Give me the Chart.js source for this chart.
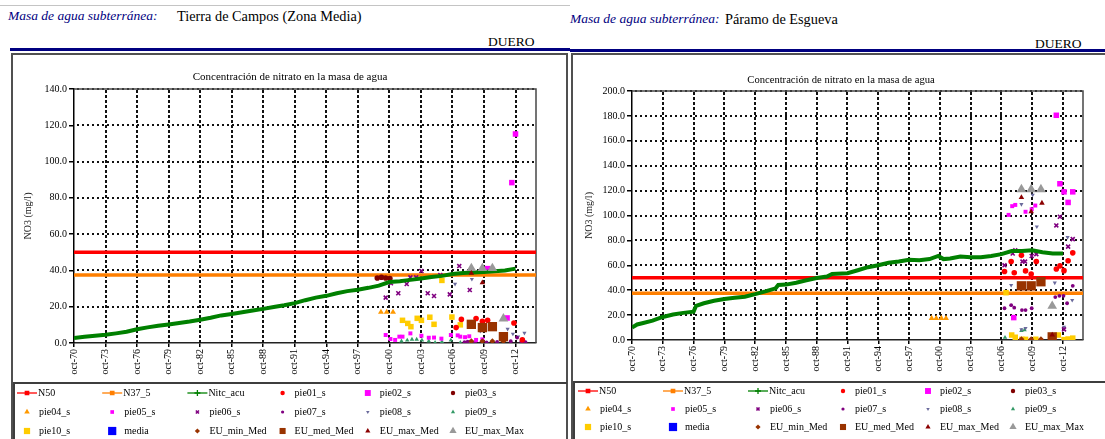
<!DOCTYPE html>
<html>
<head>
<meta charset="utf-8">
<title>Concentración de nitrato en la masa de agua</title>
<script src="https://cdn.jsdelivr.net/npm/chart.js@4/dist/chart.umd.min.js"></script>
<style>
  html, body { margin: 0; padding: 0; }
  body { width: 1105px; height: 439px; overflow: hidden; background: #fff; position: relative;
         font-family: "Liberation Serif", "Times New Roman", serif; }
  .rule { position: absolute; height: 1px; background: #c4c4c4; }
  .navy { position: absolute; height: 3px; background: #000080; }
  .hdr { position: absolute; font-size: 13.5px; line-height: 16px; white-space: nowrap; color: #000; }
  .hdr.lbl { font-style: italic; color: #000080; }
  .hdr.name { font-size: 14.3px; }
  .box { position: absolute; border: 2px solid #505050; box-sizing: border-box; }
  canvas { position: absolute; }
</style>
</head>
<body>

<div class="rule" style="left:0;top:5px;width:570px"></div>

<div class="hdr lbl" style="left:8px;top:8px">Masa de agua subterránea:</div>
<div class="hdr name" style="left:177px;top:8px">Tierra de Campos (Zona Media)</div>
<div class="hdr" style="left:488px;top:34px">DUERO</div>
<div class="navy" style="left:10px;top:48px;width:560px"></div>

<div class="hdr lbl" style="left:570px;top:11px">Masa de agua subterránea:</div>
<div class="hdr name" style="left:725px;top:11px">Páramo de Esgueva</div>
<div class="hdr" style="left:1035px;top:36px">DUERO</div>
<div class="navy" style="left:570px;top:49px;width:535px"></div>

<div class="box" style="left:11px;top:53px;width:557px;height:400px"></div>
<div class="box" style="left:571px;top:53px;width:545px;height:400px"></div>

<canvas id="chartTdc" width="555" height="384" style="left:12px;top:55px"></canvas>
<canvas id="chartPde" width="540" height="384" style="left:573px;top:55px"></canvas>

<script>
// ---- Axis ticks and ranges ----
const xMin = 1970.75;
const xMax = 2014.7;
const xTickValues = [1970.75, 1973.75, 1976.75, 1979.75, 1982.75, 1985.75, 1988.75, 1991.75,
                     1994.75, 1997.75, 2000.75, 2003.75, 2006.75, 2009.75, 2012.75];
const xTickLabels = ['oct-70', 'oct-73', 'oct-76', 'oct-79', 'oct-82', 'oct-85', 'oct-88', 'oct-91',
                     'oct-94', 'oct-97', 'oct-00', 'oct-03', 'oct-06', 'oct-09', 'oct-12'];

// Reference nitrate levels (mg/l)
const limitN50 = 50;
const limitN37_5 = 37.5;

// ---- Tierra de Campos (Zona Media): [year, NO3 mg/l] ----
const tdcNitcAcu = [
  [1970.75, 2.8], [1971.75, 3.5], [1972.75, 4.0], [1973.75, 4.5], [1974.75, 5.3], [1975.75, 6.2],
  [1976.75, 7.6], [1977.75, 8.6], [1978.75, 9.5], [1979.75, 10.2], [1980.75, 11.0], [1981.75, 11.8],
  [1982.75, 12.8], [1983.75, 13.9], [1984.75, 15.2], [1985.75, 16.0], [1986.75, 16.9], [1987.75, 17.9],
  [1988.75, 18.8], [1989.75, 19.8], [1990.75, 20.8], [1991.75, 22.0], [1992.75, 23.6], [1993.75, 25.0],
  [1994.75, 26.0], [1995.75, 27.4], [1996.75, 28.6], [1997.75, 29.4], [1998.75, 30.4], [1999.75, 31.6],
  [2000.75, 33.6], [2001.75, 34.0], [2002.75, 34.8], [2003.75, 35.6], [2004.75, 36.4], [2005.75, 37.0],
  [2006.75, 38.0], [2007.75, 38.6], [2008.75, 38.9], [2009.75, 39.2], [2010.75, 39.6], [2011.75, 40.0],
  [2012.75, 41.0]
];
const tdcPie01 = [[2007.1, 8.5], [2007.6, 13.0], [2009.0, 13.5], [2009.6, 12.0], [2010.1, 12.5], [2012.6, 11.0], [2013.4, 1.8]];
const tdcPie02 = [[2010.1, 41.0], [2011.95, 13.8], [2012.4, 88.4], [2012.75, 115.2]];
const tdcPie03 = [[1999.6, 35.8], [2000.0, 36.2], [2000.4, 35.8], [2000.8, 35.5]];
const tdcPie04 = [[1999.95, 17.0], [2000.5, 17.0], [2001.1, 17.0]];
const tdcPie05 = [[2000.4, 4.4], [2000.85, 2.2], [2001.3, 1.7], [2001.7, 3.5], [2002.0, 3.5], [2002.75, 5.3],
                  [2003.8, 4.0], [2004.5, 2.9], [2005.0, 3.0], [2005.7, 2.4], [2006.6, 4.4], [2007.25, 4.2],
                  [2007.5, 3.5], [2007.95, 3.2], [2008.35, 3.7], [2009.0, 1.7], [2009.6, 2.0]];
const tdcPie06 = [[2000.4, 25.0], [2000.9, 32.9], [2001.6, 27.4], [2002.4, 32.5], [2002.75, 36.2], [2003.3, 36.2],
                  [2003.8, 39.7], [2004.4, 27.4], [2005.0, 25.9], [2005.6, 37.5], [2006.5, 26.8], [2007.4, 42.4],
                  [2008.4, 29.2]];
const tdcPie07 = [[2007.9, 0.5], [2008.2, 0.8], [2008.9, 0.5], [2010.0, 0.3], [2011.0, 0.6], [2012.3, 1.0],
                  [2012.9, 3.0], [2013.3, 0.8], [2013.5, 1.2], [2013.7, 0.5]];
const tdcPie08 = [[2007.0, 32.5], [2008.6, 35.2], [2009.4, 6.5], [2012.0, 7.7], [2012.5, 5.0], [2013.0, 3.5], [2013.6, 5.5]];
const tdcPie09 = [[2001.9, 1.0], [2002.45, 1.5], [2002.9, 2.0], [2003.35, 2.0], [2003.85, 1.5], [2004.5, 1.0],
                  [2005.1, 0.2], [2005.75, 0.7], [2006.6, 1.5], [2007.5, 0.2], [2008.4, 0.5]];
const tdcPie10 = [[2002.0, 12.5], [2002.5, 10.8], [2002.8, 9.0], [2003.4, 13.6], [2003.8, 12.5], [2004.6, 14.2],
                  [2005.0, 10.3], [2005.75, 34.5], [2006.7, 14.3], [2007.5, 10.0]];
const tdcMedia = [];
const tdcEuMinMed = [[2008.55, 1.0], [2009.6, 1.0], [2010.55, 1.0], [2011.6, 1.0]];
const tdcEuMedMed = [[2008.55, 10.3], [2009.6, 8.5], [2010.55, 9.0], [2011.6, 3.5]];
const tdcEuMaxMed = [[2008.55, 38.5], [2009.6, 33.2]];
const tdcEuMaxMax = [[2008.55, 41.2], [2009.6, 41.2], [2010.55, 41.2], [2011.6, 13.4]];

// ---- Páramo de Esgueva: [year, NO3 mg/l] ----
const pdeNitcAcu = [
  [1970.75, 10.0], [1971.25, 12.5], [1971.75, 13.5], [1972.75, 15.5], [1973.75, 18.5], [1974.75, 20.5],
  [1975.75, 21.8], [1976.75, 22.8], [1977.0, 27.5], [1977.75, 29.5], [1978.75, 31.5], [1979.75, 33.0],
  [1980.75, 34.0], [1981.75, 34.8], [1982.75, 36.8], [1983.75, 39.0], [1984.75, 41.5], [1985.0, 44.2],
  [1985.75, 44.5], [1986.75, 46.0], [1987.75, 48.0], [1988.75, 49.8], [1989.75, 51.0], [1990.25, 53.0],
  [1991.75, 53.6], [1992.75, 56.0], [1993.75, 58.5], [1994.75, 60.0], [1995.75, 62.0], [1996.75, 63.0],
  [1997.75, 64.5], [1998.75, 64.0], [1999.75, 65.0], [2000.6, 67.5], [2001.1, 65.0], [2001.75, 65.5],
  [2002.75, 67.0], [2003.75, 66.5], [2004.75, 66.5], [2005.75, 67.5], [2006.75, 69.0], [2007.75, 71.5],
  [2008.75, 71.5], [2009.75, 72.0], [2010.75, 70.5], [2011.75, 69.5], [2012.75, 69.5]
];
const pdePie01 = [[2007.05, 55.0], [2007.7, 63.0], [2008.0, 54.0], [2008.7, 68.0], [2009.1, 55.5], [2009.65, 53.0],
                  [2010.15, 63.0], [2012.1, 57.0], [2012.45, 59.5], [2012.85, 55.7], [2013.25, 63.7], [2013.7, 70.0]];
const pdePie02 = [[2007.95, 18.0], [2012.1, 180.5], [2012.45, 125.5], [2012.85, 119.0], [2013.25, 110.5], [2013.7, 119.0]];
const pdePie03 = [];
const pdePie04 = [[1999.95, 17.5], [2000.4, 17.5], [2000.9, 17.5], [2001.35, 17.5]];
const pdePie05 = [[2007.45, 100.5], [2007.8, 107.5], [2008.1, 108.5], [2009.1, 103.0], [2009.7, 105.0], [2010.05, 108.0]];
const pdePie06 = [[2007.05, 60.0], [2007.85, 69.5], [2008.1, 72.0], [2008.8, 63.0], [2009.05, 63.0], [2009.7, 67.5],
                  [2010.15, 69.0], [2012.1, 92.0], [2012.45, 99.0], [2012.85, 8.5], [2013.25, 75.0], [2013.7, 81.0]];
const pdePie07 = [[2007.05, 25.5], [2007.7, 28.0], [2008.0, 26.0], [2008.75, 24.0], [2009.1, 24.0], [2009.7, 25.5],
                  [2012.0, 34.5], [2012.4, 35.5], [2012.8, 35.5], [2013.15, 29.5], [2013.7, 43.5]];
const pdePie08 = [[2007.7, 44.0], [2008.7, 109.0], [2009.8, 116.5], [2010.2, 91.0], [2011.95, 46.0], [2013.2, 82.5],
                  [2013.65, 32.0], [2008.7, 8.5], [2009.1, 9.5], [2012.85, 10.5]];
const pdePie09 = [[2007.1, 2.0], [2008.7, 7.5], [2009.0, 8.0]];
const pdePie10 = [[2007.2, 38.0], [2007.75, 4.0], [2008.1, 2.2], [2008.75, 0.5], [2009.1, 0.5], [2010.1, 0.6],
                  [2012.3, 4.0], [2012.85, 0.3], [2013.25, 0.8], [2013.7, 1.5]];
const pdeMedia = [];
const pdeEuMinMed = [[2008.7, 0.6], [2009.65, 0.6], [2010.6, 0.6], [2011.6, 0.6]];
const pdeEuMedMed = [[2008.7, 43.5], [2009.65, 43.5], [2010.6, 46.8], [2011.7, 2.5]];
const pdeEuMaxMed = [[2008.7, 114.5], [2009.65, 103.0], [2010.7, 110.0], [2011.7, 4.0]];
const pdeEuMaxMax = [[2008.7, 121.0], [2009.65, 121.0], [2010.6, 121.0], [2011.7, 27.3]];

// ---- Series appearance (same for both charts, in legend order) ----
const FONT = '"Liberation Serif", "Times New Roman", serif';
const seriesStyles = [
  { label: 'N50',        line: true, color: '#ff0000', width: 3.5, mark: 'rect',  order: 30 },
  { label: 'N37_5',      line: true, color: '#ff7f00', width: 3.5, mark: 'rect',  order: 29 },
  { label: 'Nitc_acu',   line: true, color: '#008000', width: 4,   mark: 'cross', order: 8 },
  { label: 'pie01_s',    color: '#ff0000', style: 'circle',   r: 2.8, lr: 2.2 },
  { label: 'pie02_s',    color: '#ff00ff', style: 'rect',     r: 3.9, lr: 4.2 },
  { label: 'pie03_s',    color: '#800000', style: 'circle',   r: 2.8, lr: 2.2 },
  { label: 'pie04_s',    color: '#ff9900', style: 'triangle', r: 3.4, lr: 3.2 },
  { label: 'pie05_s',    color: '#ff00ff', style: 'rect',     r: 2.8, lr: 2.6 },
  { label: 'pie06_s',    color: '#800080', style: 'crossRot', r: 2.8, lr: 2.2, bw: 1.6 },
  { label: 'pie07_s',    color: '#800080', style: 'circle',   r: 1.9, lr: 1.6 },
  { label: 'pie08_s',    color: '#6a6a9c', style: 'triangle', r: 2.4, lr: 2.0, rot: 180 },
  { label: 'pie09_s',    color: '#339966', style: 'triangle', r: 2.6, lr: 2.4 },
  { label: 'pie10_s',    color: '#ffcc00', style: 'rect',     r: 3.9, lr: 4.4 },
  { label: 'media',      color: '#0000ff', style: 'rect',     r: 5.5, lr: 5.8 },
  { label: 'EU_min_Med', color: '#993300', style: 'rectRot',  r: 3.0, lr: 2.6, order: 5 },
  { label: 'EU_med_Med', color: '#993300', style: 'rect',     r: 6.6, lr: 4.3, order: 5 },
  { label: 'EU_max_Med', color: '#8b0000', style: 'triangle', r: 3.2, lr: 3.0, order: 4 },
  { label: 'EU_max_Max', color: '#999999', style: 'triangle', r: 5.6, lr: 4.2, order: 6 }
];

const tdcSeries = [
  [[xMin, limitN50], [xMax, limitN50]], [[xMin, limitN37_5], [xMax, limitN37_5]], tdcNitcAcu,
  tdcPie01, tdcPie02, tdcPie03, tdcPie04, tdcPie05, tdcPie06, tdcPie07, tdcPie08, tdcPie09, tdcPie10,
  tdcMedia, tdcEuMinMed, tdcEuMedMed, tdcEuMaxMed, tdcEuMaxMax
];
const pdeSeries = [
  [[xMin, limitN50], [xMax, limitN50]], [[xMin, limitN37_5], [xMax, limitN37_5]], pdeNitcAcu,
  pdePie01, pdePie02, pdePie03, pdePie04, pdePie05, pdePie06, pdePie07, pdePie08, pdePie09, pdePie10,
  pdeMedia, pdeEuMinMed, pdeEuMedMed, pdeEuMaxMed, pdeEuMaxMax
];

// Dotted grid at every scale tick, plot frame (top/right edges) and the chart heading
const plotFrame = {
  id: 'plotFrame',
  beforeDatasetsDraw(chart) {
    const { ctx, chartArea: a, scales: { x, y } } = chart;
    ctx.save();
    ctx.fillStyle = '#111';
    // vertical dashed lines
    x.ticks.forEach(t => {
      const px = Math.round(x.getPixelForValue(t.value));
      if (px <= a.left + 2) return;
      for (let py = a.top + 1; py < a.bottom; py += 5) ctx.fillRect(px - 1, py, 2, Math.min(3, a.bottom - py));
    });
    // horizontal dotted lines
    y.ticks.forEach(t => {
      const py = Math.round(y.getPixelForValue(t.value));
      if (py >= a.bottom - 2) return;
      for (let px = a.left + 3; px < a.right; px += 5) ctx.fillRect(px, py - 1, Math.min(2, a.right - px), 2);
    });
    ctx.strokeStyle = '#474747';
    ctx.lineWidth = 1.5;
    ctx.beginPath();
    ctx.moveTo(a.left, a.top);
    ctx.lineTo(a.right, a.top);
    ctx.lineTo(a.right, a.bottom);
    ctx.stroke();
    ctx.restore();
  },
  afterDraw(chart, _args, o) {
    const ctx = chart.ctx;
    ctx.save();
    ctx.font = o.size + 'px ' + FONT;
    ctx.fillStyle = '#000';
    ctx.textAlign = 'center';
    ctx.textBaseline = 'middle';
    ctx.fillText(o.text, o.x, o.y);
    ctx.restore();
  }
};

// Legend laid out as a fixed 6-column grid inside its own framed box
const gridLegend = {
  id: 'gridLegend',
  afterDraw(chart, _args, o) {
    const ctx = chart.ctx;
    const drawPoint = Chart.helpers.drawPoint;
    ctx.save();
    ctx.lineWidth = 2;
    ctx.strokeStyle = '#3e3e3e';
    ctx.strokeRect(o.box.left, o.box.top, o.box.width, o.box.height);
    ctx.font = o.fontSize + 'px ' + FONT;
    ctx.textBaseline = 'middle';
    ctx.textAlign = 'left';
    chart.data.datasets.forEach((ds, i) => {
      const cx = o.colStart + (i % 6) * o.colStep;
      const cy = o.rows[Math.floor(i / 6)];
      let tx;
      if (ds.showLine) {
        ctx.strokeStyle = ds.borderColor;
        ctx.fillStyle = ds.borderColor;
        ctx.lineWidth = 1.3;
        ctx.beginPath();
        ctx.moveTo(cx - 10, cy);
        ctx.lineTo(cx + 10, cy);
        ctx.stroke();
        drawPoint(ctx, { pointStyle: ds.legendMark, radius: ds.legendMark === 'cross' ? 3 : 2.4, borderWidth: 1.3, rotation: 0 }, cx, cy);
        tx = cx + 11;
      } else {
        ctx.fillStyle = ds.backgroundColor;
        ctx.strokeStyle = ds.borderColor;
        ctx.lineWidth = ds.pointBorderWidth;
        drawPoint(ctx, { pointStyle: ds.pointStyle, radius: ds.legendRadius, borderWidth: ds.pointBorderWidth, rotation: ds.pointRotation }, cx, cy);
        tx = cx + 12;
      }
      ctx.fillStyle = '#000';
      ctx.fillText(ds.label, tx, cy + 0.5);
    });
    ctx.restore();
  }
};

function makeDatasets(series) {
  return seriesStyles.map((st, i) => {
    const data = series[i].map(([x, y]) => ({ x, y }));
    if (st.line) {
      return {
        label: st.label, data, showLine: true, borderColor: st.color, backgroundColor: st.color,
        borderWidth: st.width, pointRadius: 0, pointHoverRadius: 0, tension: 0, fill: false,
        order: st.order, legendMark: st.mark
      };
    }
    return {
      label: st.label, data, showLine: false,
      pointStyle: st.style, pointRadius: st.r, pointHoverRadius: st.r, pointRotation: st.rot || 0,
      backgroundColor: st.color, borderColor: st.color, pointBorderWidth: st.bw || 0,
      order: st.order || 20, legendRadius: st.lr
    };
  });
}

function makeChart(id, series, cfg) {
  const tickFont = { family: FONT, size: 10 };
  return new Chart(document.getElementById(id), {
    type: 'scatter',
    data: { datasets: makeDatasets(series) },
    options: {
      responsive: false,
      animation: false,
      devicePixelRatio: 1,
      layout: { padding: cfg.padding },
      plugins: {
        legend: { display: false },
        tooltip: { enabled: false },
        plotFrame: cfg.title,
        gridLegend: cfg.legend
      },
      scales: {
        x: {
          type: 'linear', min: xMin, max: xMax,
          afterBuildTicks: s => { s.ticks = xTickValues.map(v => ({ value: v })); },
          afterFit: s => { s.height = cfg.xAxisHeight; },
          ticks: {
            autoSkip: false, minRotation: 90, maxRotation: 90, padding: 2,
            font: tickFont, color: '#000',
            callback: (v, i) => xTickLabels[i]
          },
          grid: { drawOnChartArea: false, color: '#000', lineWidth: 1.5, tickLength: 4, tickColor: '#000' },
          border: { color: '#222', width: 1.5 }
        },
        y: {
          min: 0, max: cfg.yMax,
          afterFit: s => { s.width = cfg.yAxisWidth; },
          ticks: { stepSize: 20, padding: 2, font: tickFont, color: '#000', callback: v => v.toFixed(1) },
          title: { display: true, text: 'NO3 (mg/l)', font: { family: FONT, size: 10 }, color: '#222', padding: 0 },
          grid: { drawOnChartArea: false, color: '#000', lineWidth: 1.5, tickLength: 5, tickColor: '#000' },
          border: { color: '#000', width: 1.5 }
        }
      }
    },
    plugins: [plotFrame, gridLegend]
  });
}

makeChart('chartTdc', tdcSeries, {
  yMax: 140,
  padding: { left: 10, top: 34, right: 31, bottom: 56 },
  yAxisWidth: 52,
  xAxisHeight: 40,
  title: { text: 'Concentración de nitrato en la masa de agua', x: 278, y: 22, size: 11 },
  legend: { box: { left: 2, top: 328, width: 560, height: 80 }, colStart: 15, colStep: 85.2, rows: [338, 357, 376], fontSize: 10 }
});

makeChart('chartPde', pdeSeries, {
  yMax: 200,
  padding: { left: 10, top: 36, right: 30, bottom: 59 },
  yAxisWidth: 49,
  xAxisHeight: 40,
  title: { text: 'Concentración de nitrato en la masa de agua', x: 268, y: 25, size: 10.6 },
  legend: { box: { left: 1, top: 327, width: 560, height: 80 }, colStart: 15, colStep: 85, rows: [336, 354, 372], fontSize: 10 }
});
</script>
</body>
</html>
